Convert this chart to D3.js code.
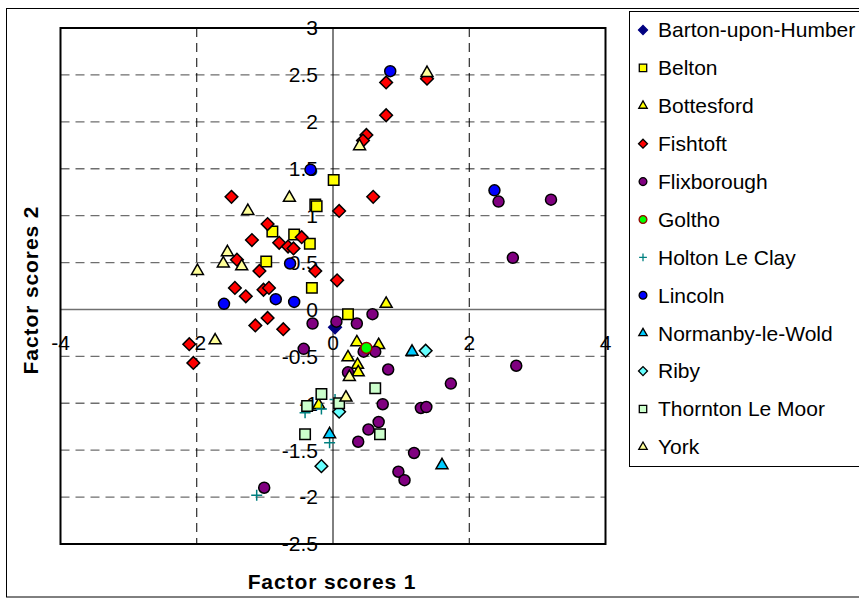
<!DOCTYPE html>
<html>
<head>
<meta charset="utf-8">
<script src="https://cdn.jsdelivr.net/npm/d3@7"></script>
<style>
  body { margin: 0; background: #fff; }
  svg { display: block; font-family: "Liberation Sans", Arial, sans-serif; }
</style>
</head>
<body>
<svg id="chart" width="859" height="601"></svg>
<script>
// site names (legend order = draw order)
const sites = ['Barton-upon-Humber', 'Belton', 'Bottesford', 'Fishtoft', 'Flixborough', 'Goltho',
  'Holton Le Clay', 'Lincoln', 'Normanby-le-Wold', 'Riby', 'Thornton Le Moor', 'York'];

// factor scores [fs1, fs2]
const barton = [[0.03, -0.19]];
const belton = [[0.01, 1.38], [-0.26, 1.12], [-0.24, 1.10], [-0.89, 0.83], [-0.57, 0.80], [-0.34, 0.70],
  [-0.98, 0.51], [-0.31, 0.23], [0.22, -0.05]];
const bottesford = [[0.78, 0.06], [0.35, -0.35], [0.67, -0.38], [0.22, -0.51], [0.36, -0.59], [0.37, -0.67],
  [-0.21, -1.02]];
const fishtoft = [[0.78, 2.42], [0.78, 2.07], [0.49, 1.86], [0.44, 1.80], [1.38, 2.46], [-1.49, 1.20],
  [0.59, 1.20], [0.09, 1.05], [-0.96, 0.91], [-0.46, 0.77], [-1.19, 0.74], [-0.79, 0.71], [-0.66, 0.67],
  [-0.58, 0.65], [-1.41, 0.53], [-1.08, 0.41], [-0.26, 0.41], [0.06, 0.31], [-1.44, 0.23], [-1.02, 0.21],
  [-0.94, 0.23], [-1.28, 0.14], [-1.14, -0.17], [-0.96, -0.09], [-0.73, -0.21], [-2.11, -0.37], [-2.05, -0.57]];
const flixborough = [[0.58, -0.05], [0.05, -0.13], [0.35, -0.15], [-0.30, -0.15], [-0.43, -0.42], [0.45, -0.45],
  [0.62, -0.45], [0.22, -0.67], [0.81, -0.64], [1.73, -0.79], [0.73, -1.01], [1.29, -1.05], [1.37, -1.04],
  [0.67, -1.20], [0.52, -1.28], [0.37, -1.41], [1.19, -1.53], [0.96, -1.73], [1.05, -1.82], [-1.01, -1.90],
  [2.43, 1.15], [3.20, 1.17], [2.64, 0.55], [2.69, -0.60]];
const goltho = [[0.49, -0.41]];
const holton = [[-0.41, -1.10], [-0.17, -1.06], [0.03, -0.96], [-0.05, -1.42], [-1.12, -1.98]];
const lincoln = [[0.84, 2.54], [-0.33, 1.49], [-0.63, 0.49], [-1.60, 0.06], [-0.84, 0.11], [-0.57, 0.08],
  [2.37, 1.27]];
const normanby = [[1.16, -0.45], [-0.05, -1.33], [1.60, -1.66]];
const riby = [[1.36, -0.44], [0.09, -1.09], [-0.17, -1.67]];
const thornton = [[-0.17, -0.90], [-0.38, -1.03], [0.09, -1.00], [0.62, -0.84], [0.69, -1.33], [-0.41, -1.33]];
const york = [[1.38, 2.52], [0.39, 1.74], [-0.64, 1.19], [-1.25, 1.05], [-1.55, 0.61], [-1.61, 0.49],
  [-1.34, 0.46], [-1.99, 0.41], [-1.73, -0.33], [0.24, -0.72], [0.19, -0.94]];

const xTicks = [-4, -2, 0, 2, 4];
const yTicks = [3, 2.5, 2, 1.5, 1, 0.5, 0, -0.5, -1, -1.5, -2, -2.5];

const seriesData = [barton, belton, bottesford, fishtoft, flixborough, goltho,
  holton, lincoln, normanby, riby, thornton, york];

// marker look per site
const styles = [
  { shape: 'diamond', fill: '#000080', stroke: '#000080' },
  { shape: 'square', fill: '#FFFF00', stroke: '#000' },
  { shape: 'triangle', fill: '#FFFF00', stroke: '#000' },
  { shape: 'diamond', fill: '#FF0000', stroke: '#000' },
  { shape: 'circle', fill: '#800080', stroke: '#000' },
  { shape: 'circle', fill: '#00FF00', stroke: '#990000' },
  { shape: 'plus', fill: 'none', stroke: '#008080' },
  { shape: 'circle', fill: '#0000FF', stroke: '#000' },
  { shape: 'triangle', fill: '#00CCFF', stroke: '#000' },
  { shape: 'diamond', fill: '#66FFFF', stroke: '#000' },
  { shape: 'square', fill: '#CCFFCC', stroke: '#000' },
  { shape: 'triangle', fill: '#FFFF99', stroke: '#000' }
];

const svg = d3.select('#chart');

const x = d3.scaleLinear().domain([-4, 4]).range([60.5, 605.5]);
const y = d3.scaleLinear().domain([-2.5, 3]).range([544, 28]);

function markerPath(shape, k) {
  if (shape === 'circle') return d3.symbol(d3.symbolCircle, 95 * k)();
  if (shape === 'square') return d3.symbol(d3.symbolSquare, 110 * k)();
  if (shape === 'diamond') return d3.symbol(d3.symbolSquare, 80 * k)();
  if (shape === 'triangle') return d3.symbol(d3.symbolTriangle, 62 * k)();
  const r = 5.5 * Math.sqrt(k);
  return 'M' + (-r) + ',0H' + r + 'M0,' + (-r) + 'V' + r;
}

// outer frame
svg.append('rect')
  .attr('x', 6.5).attr('y', 8.5).attr('width', 900).attr('height', 588.5)
  .attr('fill', 'none').attr('stroke', '#000').attr('stroke-width', 1);

// grid
const grid = svg.append('g');
grid.selectAll('line.h')
  .data(yTicks.filter(function (v) { return v !== 0 && v !== 3 && v !== -2.5; }))
  .join('line')
  .attr('x1', x(-4)).attr('x2', x(4))
  .attr('y1', function (d) { return y(d); }).attr('y2', function (d) { return y(d); })
  .attr('stroke', '#6e6e6e').attr('stroke-width', 1.3).attr('stroke-dasharray', '9,6');
grid.selectAll('line.v')
  .data([-2, 2])
  .join('line')
  .attr('y1', y(3)).attr('y2', y(-2.5))
  .attr('x1', function (d) { return x(d); }).attr('x2', function (d) { return x(d); })
  .attr('stroke', '#000').attr('stroke-width', 1).attr('stroke-dasharray', '9,6');

// axes through the origin
svg.append('line')
  .attr('x1', x(-4)).attr('x2', x(4)).attr('y1', y(0)).attr('y2', y(0))
  .attr('stroke', '#707070').attr('stroke-width', 1.5);
svg.append('line')
  .attr('x1', x(0)).attr('x2', x(0)).attr('y1', y(3)).attr('y2', y(-2.5))
  .attr('stroke', '#000').attr('stroke-width', 1);

// plot border
svg.append('rect')
  .attr('x', x(-4)).attr('y', y(3))
  .attr('width', x(4) - x(-4)).attr('height', y(-2.5) - y(3))
  .attr('fill', 'none').attr('stroke', '#000').attr('stroke-width', 2);

// tick labels
svg.append('g').selectAll('text')
  .data(xTicks)
  .join('text')
  .attr('x', function (d) { return x(d); })
  .attr('y', 343)
  .attr('dy', '0.35em')
  .attr('text-anchor', 'middle')
  .attr('font-size', 21)
  .text(function (d) { return String(d); });

svg.append('g').selectAll('text')
  .data(yTicks)
  .join('text')
  .attr('x', x(0) - 15)
  .attr('y', function (d) { return y(d); })
  .attr('dy', '0.35em')
  .attr('text-anchor', 'end')
  .attr('font-size', 21)
  .text(function (d) { return String(d); });

// points
const pts = svg.append('g');
seriesData.forEach(function (rows, i) {
  const st = styles[i];
  pts.append('g').selectAll('path')
    .data(rows)
    .join('path')
    .attr('transform', function (d) {
      return 'translate(' + x(d[0]) + ',' + y(d[1]) + ')' + (st.shape === 'diamond' ? ' rotate(45)' : '');
    })
    .attr('d', markerPath(st.shape, 1))
    .attr('fill', st.fill)
    .attr('stroke', st.stroke)
    .attr('stroke-width', st.shape === 'plus' ? 1.5 : 1.5);
});

// axis titles
svg.append('text')
  .attr('x', 332).attr('y', 589)
  .attr('text-anchor', 'middle')
  .attr('font-size', 21).attr('font-weight', 'bold').attr('letter-spacing', 0.9)
  .text('Factor scores 1');

svg.append('text')
  .attr('transform', 'translate(38,290) rotate(-90)')
  .attr('text-anchor', 'middle')
  .attr('font-size', 21).attr('font-weight', 'bold').attr('letter-spacing', 0.9)
  .text('Factor scores 2');

// legend
const legend = svg.append('g');
legend.append('rect')
  .attr('x', 629.5).attr('y', 11.5).attr('width', 260).attr('height', 455)
  .attr('fill', '#fff').attr('stroke', '#000').attr('stroke-width', 1);

const item = legend.selectAll('g.item')
  .data(sites)
  .join('g')
  .attr('transform', function (d, i) { return 'translate(643,' + (30 + i * 37.9) + ')'; });

item.append('path')
  .attr('transform', function (d, i) { return styles[i].shape === 'diamond' ? 'rotate(45)' : null; })
  .attr('d', function (d, i) { return markerPath(styles[i].shape, 0.5); })
  .attr('fill', function (d, i) { return styles[i].fill; })
  .attr('stroke', function (d, i) { return styles[i].stroke; })
  .attr('stroke-width', 1.3);

item.append('text')
  .attr('x', 15)
  .attr('dy', '0.35em')
  .attr('font-size', 21)
  .text(function (d) { return d; });
</script>
</body>
</html>
